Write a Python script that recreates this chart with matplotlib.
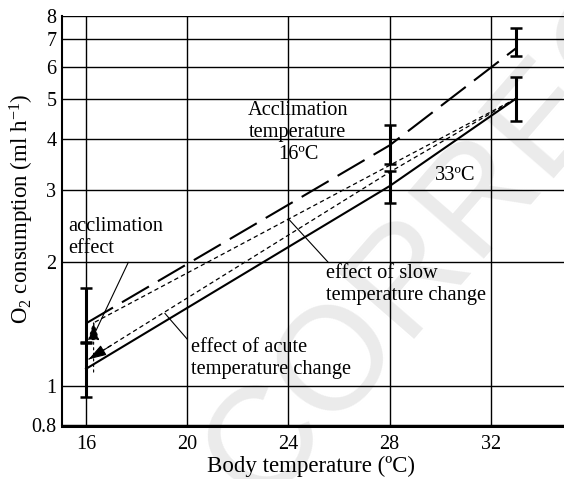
import numpy as np
import matplotlib
matplotlib.use("Agg")
import matplotlib.pyplot as plt

plt.rcParams['font.family'] = ['Liberation Serif', 'DejaVu Serif']
plt.rcParams['mathtext.fontset'] = 'custom'
plt.rcParams['mathtext.rm'] = 'Liberation Serif'
plt.rcParams['mathtext.it'] = 'Liberation Serif:italic'
plt.rcParams['mathtext.default'] = 'regular'

# data
temps = [16, 28, 33]

# animals acclimated at 16 C (dashed) and 33 C (solid)
o2_acc16 = [1.42, 3.86, 6.66]
lo_acc16 = [1.27, 3.47, 6.38]
hi_acc16 = [1.73, 4.32, 7.45]

o2_acc33 = [1.10, 3.07, 5.02]
lo_acc33 = [0.94, 2.80, 4.43]
hi_acc33 = [1.28, 3.34, 5.67]

# dotted curves
slow_temps = [16.35, 28, 33]
slow_o2 = [1.43, 3.45, 5.02]
acute_temps = [16.1, 28, 33]
acute_o2 = [1.16, 3.32, 5.02]

# vertical "acclimation effect" arrow
accl_arrow_x = 16.3
accl_arrow_from = 1.08
accl_arrow_to = 1.44

x_ticks = [16, 20, 24, 28, 32]
y_ticks = [0.8, 1, 2, 3, 4, 5, 6, 7, 8]
y_ticklabels = ['0.8', '1', '2', '3', '4', '5', '6', '7', '8']

fig = plt.figure(figsize=(5.64, 4.79), dpi=100)
ax = fig.add_axes([62 / 564, 1 - 425.5 / 479, 502 / 564, (425.5 - 15.7) / 479])
ax.set_zorder(2)
ax.patch.set_alpha(0)

# watermark behind the plot
fig.text(566 / 564, 1 - 156 / 479, "CORRECTED", fontsize=106, family='Liberation Sans',
         color='#ebebeb', rotation=49, rotation_mode='anchor', ha='center', va='baseline',
         zorder=0)

ax.set_yscale('log')
ax.set_xlim(15.05, 34.9)
ax.set_ylim(0.8, 8)

ax.plot(temps, o2_acc16, color='k', lw=1.5, dashes=(15, 5), zorder=3)
ax.plot(temps, o2_acc33, color='k', lw=1.5, zorder=3)
ax.plot(slow_temps, slow_o2, color='k', lw=0.9, dashes=(3.5, 2.5), zorder=3)
ax.plot(acute_temps, acute_o2, color='k', lw=0.9, dashes=(3.5, 2.5), zorder=3)

for o2, lo, hi in [(o2_acc16, lo_acc16, hi_acc16), (o2_acc33, lo_acc33, hi_acc33)]:
    o2 = np.array(o2)
    yerr = [o2 - np.array(lo), np.array(hi) - o2]
    ax.errorbar(temps, o2, yerr=yerr, fmt='none', ecolor='k', elinewidth=2.2,
                capsize=4, capthick=1.8, zorder=4)

# arrowheads
ax.annotate('', xy=(acute_temps[0], acute_o2[0]), xytext=(17.0, 1.255),
            arrowprops=dict(arrowstyle='-|>,head_length=1.1,head_width=0.35',
                            color='k', lw=0.8, shrinkA=0, shrinkB=0), zorder=5)
ax.annotate('', xy=(accl_arrow_x, accl_arrow_to), xytext=(accl_arrow_x, accl_arrow_from),
            arrowprops=dict(arrowstyle='-|>,head_length=1.2,head_width=0.35',
                            color='k', lw=0.8, ls=(0, (2, 3)), shrinkA=0, shrinkB=0), zorder=5)

# labels and pointer lines
fs = 14.7
ax.text(24.38, 4.155, "Acclimation\ntemperature\n16ºC", fontsize=fs, ha='center',
        va='center', multialignment='center', linespacing=1.2)
ax.text(30.59, 3.263, "33ºC", fontsize=fs, ha='center', va='center')
ax.text(15.30, 2.305, "acclimation\neffect", fontsize=fs, ha='left', va='center',
        linespacing=1.2)
ax.text(25.49, 1.764, "effect of slow\ntemperature change", fontsize=fs, ha='left',
        va='center', linespacing=1.2)
ax.text(20.14, 1.168, "effect of acute\ntemperature change", fontsize=fs, ha='left',
        va='center', linespacing=1.2)

ax.plot([24.0, 25.58], [2.556, 2.0], color='k', lw=0.8)
ax.plot([19.12, 20.0], [1.502, 1.30], color='k', lw=0.8)
ax.plot([17.67, 16.36], [2.0, 1.35], color='k', lw=0.8)

ax.set_xticks(x_ticks)
ax.set_yticks(y_ticks)
ax.set_yticklabels(y_ticklabels)
ax.yaxis.set_minor_locator(matplotlib.ticker.NullLocator())
ax.tick_params(length=0, labelsize=14.5)
ax.tick_params(axis='x', pad=7)
ax.tick_params(axis='y', pad=4)

ax.grid(True, color='k', lw=1.0)
ax.set_axisbelow(True)
for s in ['top', 'right']:
    ax.spines[s].set_visible(False)
ax.spines['left'].set_linewidth(1.5)
ax.spines['bottom'].set_linewidth(2.2)

ax.set_xlabel("Body temperature (ºC)", fontsize=16.5)
ax.set_ylabel("O$_2$ consumption (ml h$^{-1}$)", fontsize=16.5)
ax.xaxis.label.set_va('center')
ax.yaxis.label.set_va('center')
ax.xaxis.set_label_coords(0.496, -0.1005)
ax.yaxis.set_label_coords(-0.0797, 0.528)

plt.savefig("out.png", dpi=100)
